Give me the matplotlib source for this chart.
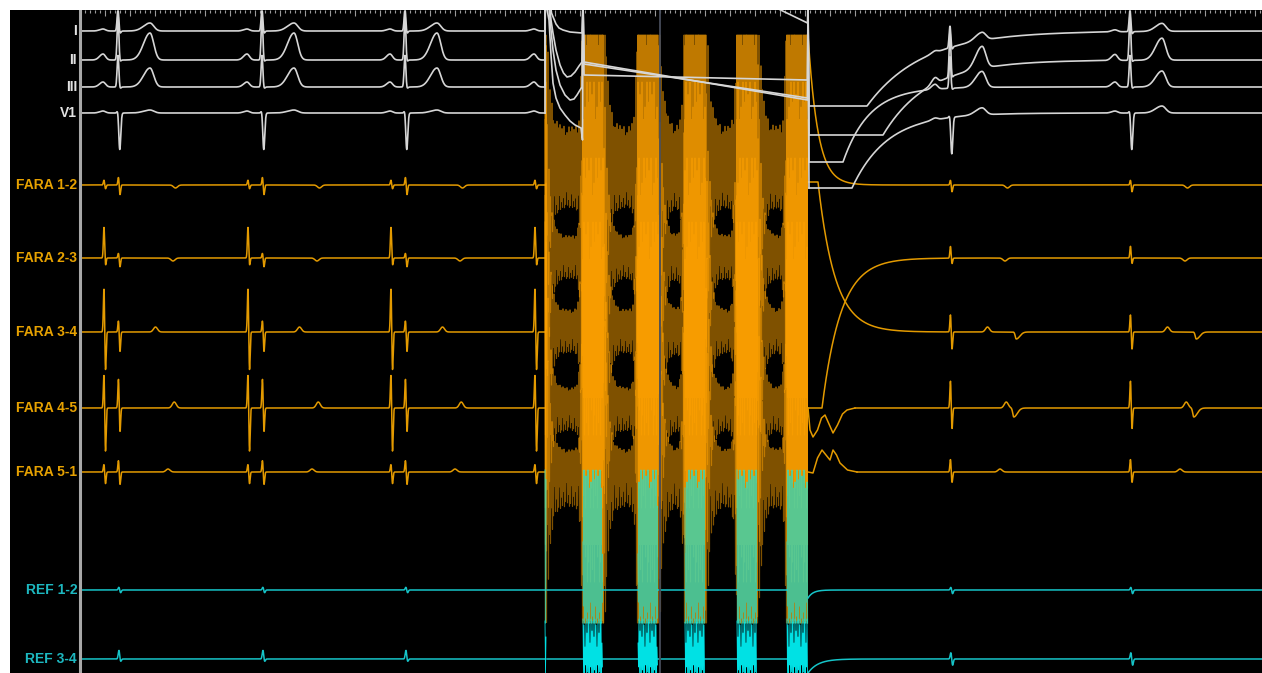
import numpy as np
import matplotlib
matplotlib.use("Agg")
import matplotlib.pyplot as plt
from matplotlib.ticker import FixedLocator

# ------------------------------------------------------------------ data
# time axis in ms (4 ms per screen pixel), amplitudes in screen rows
sinus_beats_pre = [152, 728, 1300, 1876]
sinus_beats_post = [3480, 4200]

ablation_start = 1860
ablation_end = 2912
burst_start = [2012, 2232, 2420, 2628, 2828]
burst_end = [2092, 2312, 2500, 2708, 2912]
tail_start = [1866, 2092, 2312, 2500, 2708]
tail_strength = [0.6, 1.0, 1.0, 1.0, 1.0]
marker_time = 2320

# surface ECG
ecg_names = ["I", "II", "III", "V1"]
ecg_base = [31, 60, 87, 113]
ecg_p_amp = [2, 6, 5, 2]
ecg_r_amp = [22, 45, 32, 4]
ecg_s_amp = [3, 2, 2, 37]
ecg_t_amp = [8, 27, 19, 3]
ecg_t_amp_post = [8, 22, 16, 7]
ecg_clip_drop = 75
ecg_rec_start = [3148, 3212, 3052, 3088]
ecg_rec_tau = [220, 180, 105, 140]

ecg_I_abl_t = [1860, 1861, 1880, 1886, 1894, 1904, 1916, 1932, 1960, 2008, 2012, 2016, 2720, 2910, 2912, 2916]
ecg_I_abl_y = [31, 0, 0, 13, 18, 24, 28, 30, 32, 33, 0, 0, 0, 23, 0, 106]
ecg_II_abl_t = [1860, 1861, 1876, 1884, 1892, 1904, 1920, 1934, 1948, 1964, 1980, 1996, 2008, 2012, 2016, 2910, 2912, 2916]
ecg_II_abl_y = [60, 0, 0, 20, 33, 50, 65, 73, 77, 76, 72, 66, 62, 0, 62, 100, 0, 135]
ecg_III_abl_t = [1860, 1861, 1876, 1884, 1892, 1904, 1920, 1940, 1960, 1976, 1988, 2000, 2008, 2012, 2016, 2910, 2912, 2916]
ecg_III_abl_y = [87, 0, 8, 30, 50, 70, 85, 95, 100, 99, 95, 90, 87, 0, 75, 80, 0, 162]
ecg_V1_abl_t = [1860, 1861, 1876, 1884, 1892, 1904, 1920, 1940, 1960, 1980, 2004, 2010, 2012, 2016, 2910, 2912, 2916]
ecg_V1_abl_y = [113, 0, 20, 55, 83, 98, 108, 115, 121, 125, 128, 140, 0, 64, 98, 0, 188]

# FARAWAVE bipoles
fara_names = ["FARA 1-2", "FARA 2-3", "FARA 3-4", "FARA 4-5", "FARA 5-1"]
fara_base = [185, 258, 332, 408, 472]
fara_a_up = [5, 31, 45, 35, 8]
fara_a_dn = [4, 8, 40, 45, 12]
fara_v_up = [8, 5, 12, 30, 12]
fara_v_dn = [10, 9, 20, 25, 13]
fara_pv_up = [5, 12, 18, 28, 13]
fara_pv_dn = [7, 6, 18, 22, 11]
fara_late1_t = [230, 220, 150, 225, 200]
fara_late1_a = [-3, -3, 5, 6, 3]
fara_late2_t = [260, 260, 265, 255, 260]
fara_late2_a = [0, 0, -7, -9, 0]
fara_tail_up = [58, 22, 22, 20, 22]
fara_tail_dn = [22, 20, 20, 22, 34]
fara_rec_amp = [-150, 150, -150, 0, 0]
fara_rec_start = [2912, 2968, 2952, 2912, 2912]
fara_rec_tau = [39, 75, 68, 1, 1]
fara_post_start = [2912, 2912, 2912, 3100, 3108]
f45_post_t = [2912, 2920, 2932, 2950, 2966, 2980, 2996, 3012, 3030, 3050, 3068, 3100]
f45_post_y = [408, 430, 437, 430, 418, 415, 424, 433, 425, 414, 410, 408]
f51_post_t = [2912, 2932, 2950, 2968, 2984, 3000, 3012, 3026, 3040, 3070, 3108]
f51_post_y = [472, 473, 458, 450, 455, 460, 450, 455, 463, 470, 472]

# reference catheter
ref_names = ["REF 1-2", "REF 3-4"]
ref_base = [590, 659]
ref_pre_up = [3, 9]
ref_pre_dn = [3, 3]
ref_post_up = [3, 7]
ref_post_dn = [4, 7]
ref_sat_up = [120, 40]
ref_sat_dn = [40, 20]
ref_rec_amp = [8, 14]
ref_rec_tau = [20, 40]

stripe = [1.0, 0.92, 0.4, 1.0, 0.7, 0.95, 0.55, 1.0, 0.85, 0.3, 0.9, 0.65]

# ------------------------------------------------------------------ style
TOP = 11
ORANGE_TOP, ORANGE_BOTTOM = 35, 623
SAT = 250
ECG_COL = "#D6D6D6"
FARA_COL = "#E39A00"
COMB_COL = "#FFA200"
REF_COL = "#16C4C8"
REF_BRIGHT = "#00EEF2"


def gauss(t, c, w):
    return np.exp(-0.5 * ((t - c) / w) ** 2)


def asym(t, c, w1, w2):
    w = np.where(t < c, w1, w2)
    return np.exp(-0.5 * ((t - c) / w) ** 2)


def biphasic(t, c, up, dn, w=2.5):
    return up * gauss(t, c, w) - dn * gauss(t, c + 6, w)


def ecg_signal(t, i, beats, t_amp):
    s = np.zeros_like(t)
    for b in beats:
        s += ecg_p_amp[i] * asym(t, b - 60, 14, 10)
        s += ecg_r_amp[i] * gauss(t, b, 3.5)
        s -= ecg_s_amp[i] * gauss(t, b + 7, 4.0)
        s += t_amp[i] * asym(t, b + 128, 26, 15)
    return s


fig = plt.figure(figsize=(12.62, 6.73), dpi=100, facecolor="white")
ax = fig.add_axes([10 / 1262, 0, 1252 / 1262, 663 / 673])
ax.set_facecolor("black")
ax.set_xlim(-280, 4728)
ax.set_ylim(673, 10)
for sp in ax.spines.values():
    sp.set_visible(False)
ax.set_yticks([])
ax.xaxis.set_ticks_position("top")
ax.xaxis.set_major_locator(FixedLocator(np.arange(0, 4728, 100)))
ax.xaxis.set_minor_locator(FixedLocator(np.arange(0, 4728, 20)))
ax.tick_params(axis="x", which="both", direction="in", colors="#9A9A9A",
               labeltop=False, labelbottom=False, width=0.8)
ax.tick_params(axis="x", which="major", length=4)
ax.tick_params(axis="x", which="minor", length=2.5)

t_pre = np.arange(0, ablation_start + 1, 1.0)

# ---------------- ECG
ecg_knots = [(ecg_I_abl_t, ecg_I_abl_y), (ecg_II_abl_t, ecg_II_abl_y),
             (ecg_III_abl_t, ecg_III_abl_y), (ecg_V1_abl_t, ecg_V1_abl_y)]
for i, base in enumerate(ecg_base):
    y = base - ecg_signal(t_pre, i, sinus_beats_pre, ecg_t_amp)
    ax.plot(t_pre, np.maximum(y, TOP), color=ECG_COL, lw=1.2, zorder=6)
    kt, ky = ecg_knots[i]
    ax.plot(kt, ky, color=ECG_COL, lw=1.2, zorder=6)
    tp = np.arange(kt[-1], 4729, 1.0)
    drop = np.where(tp < ecg_rec_start[i], ecg_clip_drop,
                    ecg_clip_drop * np.exp(-(tp - ecg_rec_start[i]) / ecg_rec_tau[i]))
    y = base + drop - ecg_signal(tp, i, sinus_beats_post, ecg_t_amp_post)
    ax.plot(tp, np.clip(y, TOP, base + ecg_clip_drop), color=ECG_COL, lw=1.2, zorder=6)

# ---------------- ablation envelope (shared)
t_abl = np.arange(ablation_start, ablation_end, 2.0)
k = np.arange(t_abl.size)
sat = t_abl < tail_start[0]
for bs, be in zip(burst_start, burst_end):
    sat |= (t_abl >= bs) & (t_abl < be)
env = np.ones_like(t_abl)
for ts, te, st in zip(tail_start, burst_start, tail_strength):
    m = (t_abl >= ts) & (t_abl < te)
    env[m] = np.minimum(1.0, st * np.exp(-(t_abl[m] - ts) / 14.0)
                        + np.exp(-(te - t_abl[m]) / 6.0))
even = (k % 2) == 0

# ---------------- FARA
for i, base in enumerate(fara_base):
    s = np.zeros_like(t_pre)
    for b in sinus_beats_pre:
        s += biphasic(t_pre, b - 56, fara_a_up[i], fara_a_dn[i])
        s += biphasic(t_pre, b + 2, fara_v_up[i], fara_v_dn[i])
        s += fara_late1_a[i] * gauss(t_pre, b + fara_late1_t[i], 8)
    ax.plot(t_pre, base - s, color=FARA_COL, lw=1.1, zorder=2)

    mod = np.array(stripe)[((k // 2) + 3 * i) % len(stripe)]
    mod = np.where(sat, np.maximum(mod, 0.85), mod)
    up = fara_tail_up[i] + (SAT - fara_tail_up[i]) * env
    dn = fara_tail_dn[i] + (SAT - fara_tail_dn[i]) * env
    y = np.where(even, base - up * mod, base + dn * mod)
    ax.plot(t_abl, np.clip(y, ORANGE_TOP, ORANGE_BOTTOM), color=COMB_COL,
            lw=0.8, alpha=0.5, zorder=2)

    tp = np.arange(fara_post_start[i], 4729, 1.0)
    rec = np.where(tp < fara_rec_start[i], fara_rec_amp[i],
                   fara_rec_amp[i] * np.exp(-(tp - fara_rec_start[i]) / fara_rec_tau[i]))
    s = np.zeros_like(tp)
    for b in sinus_beats_post:
        s += biphasic(tp, b + 2, fara_pv_up[i], fara_pv_dn[i])
        s += fara_late1_a[i] * gauss(tp, b + fara_late1_t[i], 8)
        s += fara_late2_a[i] * asym(tp, b + fara_late2_t[i], 4, 14)
    ax.plot(tp, np.clip(base + rec - s, ORANGE_TOP, ORANGE_BOTTOM),
            color=FARA_COL, lw=1.1, zorder=2)

ax.plot(f45_post_t, f45_post_y, color=FARA_COL, lw=1.1, zorder=2)
ax.plot(f51_post_t, f51_post_y, color=FARA_COL, lw=1.1, zorder=2)

# ---------------- REF
ref_clip = [(440, 623), (600, 673)]
for i, base in enumerate(ref_base):
    s = np.zeros_like(t_pre)
    for b in sinus_beats_pre:
        s += biphasic(t_pre, b + 4, ref_pre_up[i], ref_pre_dn[i], w=3)
    ax.plot(t_pre, base - s, color=REF_COL, lw=1.1, zorder=3)

    mod = np.array(stripe)[((k // 2) + 5 * i) % len(stripe)]
    mod = np.where(sat, mod, 1.0)
    up = np.where(sat, ref_sat_up[i], 1.0)
    dn = np.where(sat, ref_sat_dn[i], 1.0)
    y = np.clip(np.where(even, base - up * mod, base + dn * mod), *ref_clip[i])
    ax.plot(t_abl, np.where(sat, np.nan, base), color=REF_COL, lw=1.1, zorder=3)
    ax.plot(t_abl, np.where(sat, y, np.nan), color=REF_BRIGHT,
            lw=0.8 if i == 0 else 0.6,
            alpha=0.6 if i == 0 else 0.95, zorder=3)

    tp = np.arange(ablation_end, 4729, 1.0)
    s = np.zeros_like(tp)
    for b in sinus_beats_post:
        s += biphasic(tp, b + 4, ref_post_up[i], ref_post_dn[i], w=3)
    y = base + ref_rec_amp[i] * np.exp(-(tp - ablation_end) / ref_rec_tau[i]) - s
    ax.plot(tp, np.minimum(y, 673), color=REF_COL, lw=1.1, zorder=3)

# ---------------- markers
ax.axvline(0, color="#A8A8A8", lw=2.2, zorder=7)
ax.axvline(marker_time, color="#464C5A", lw=1.3, zorder=5)

# ---------------- labels
lab_font = dict(ha="right", va="center", fontsize=10, fontweight="bold",
                family=["Liberation Sans", "DejaVu Sans"], zorder=8)
for name, base in zip(ecg_names, ecg_base):
    ax.text(-12, base, name, color="#E2E2E2", **lab_font)
for name, base in zip(fara_names, fara_base):
    ax.text(-12, base, name, color="#E6A100", **lab_font)
for name, base in zip(ref_names, ref_base):
    ax.text(-12, base, name, color="#1DB8C0", **lab_font)

fig.savefig("out.png", dpi=100, facecolor="white")
